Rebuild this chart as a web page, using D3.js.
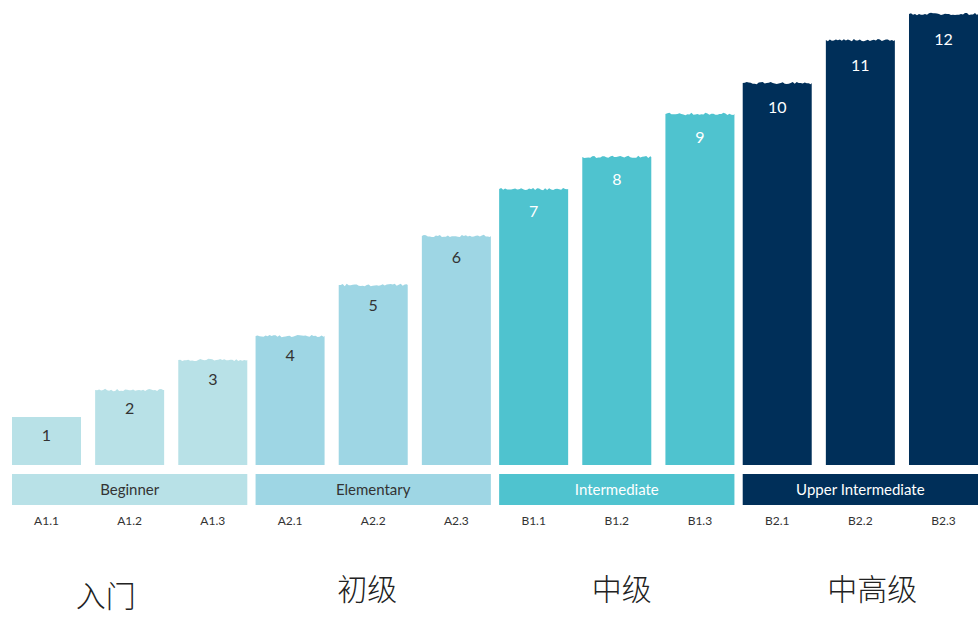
<!DOCTYPE html>
<html lang="en">
<head>
<meta charset="UTF-8">
<title>Levels</title>
<script src="https://cdn.jsdelivr.net/npm/d3@7"></script>
<style>
    body { margin: 0; background: #ffffff; font-family: Lato, "Noto Sans", sans-serif; }
    svg { display: block; }
</style>
</head>
<body>
<svg id="chart" width="978" height="619"></svg>
<script>
    // data
    const levels = ["A1.1", "A1.2", "A1.3", "A2.1", "A2.2", "A2.3", "B1.1", "B1.2", "B1.3", "B2.1", "B2.2", "B2.3"];
    const numbers = ["1", "2", "3", "4", "5", "6", "7", "8", "9", "10", "11", "12"];
    const heights = [48, 75, 105, 129, 180, 229, 276, 308, 351, 382, 425, 451];
    const groupOf = [0, 0, 0, 1, 1, 1, 2, 2, 2, 3, 3, 3];
    const groupNames = ["Beginner", "Elementary", "Intermediate", "Upper Intermediate"];
    const groupNamesZh = ["入门", "初级", "中级", "中高级"];

    const barBottom = 465;
    const barColors = ["#b8e1e7", "#9ed6e4", "#4fc3cf", "#002f59"];
    const textColors = ["#333333", "#333333", "#ffffff", "#ffffff"];
    // small nudges for the chinese captions, like the original
    const zhShift = [-24, -6, 5, 12];
    const zhY = [607, 600, 600, 600];

    const svg = d3.select("#chart");

    // groups, then levels inside each group
    const gx = d3.scaleBand()
        .domain(groupNames)
        .range([12, 978])
        .paddingInner(0.034)
        .paddingOuter(0);

    const inner = d3.scaleBand()
        .domain([0, 1, 2])
        .range([0, gx.bandwidth()])
        .paddingInner(0.17)
        .paddingOuter(0);

    const xPos = i => gx(groupNames[groupOf[i]]) + inner(i % 3);
    const bw = inner.bandwidth();

    const y = d3.scaleLinear()
        .domain([0, barBottom])
        .range([barBottom, 0]);

    // torn-paper style top edge (decoration only)
    function jitter(k, i) {
        const s = Math.sin(k * 12.9898 + i * 78.233) * 43758.5453;
        return (s - Math.floor(s)) * 2.4 - 1.2;
    }
    function barPath(i) {
        const x0 = xPos(i);
        const top = y(heights[i]);
        let p = `M${x0},${barBottom}L${x0},${top}`;
        if (i > 0) {
            for (let k = 2; k < bw; k += 2) {
                p += `L${x0 + k},${top + jitter(k, i)}`;
            }
        }
        p += `L${x0 + bw},${top}L${x0 + bw},${barBottom}Z`;
        return p;
    }

    svg.append("g").selectAll("path")
        .data(levels)
        .join("path")
        .attr("d", (d, i) => barPath(i))
        .attr("fill", (d, i) => barColors[groupOf[i]]);

    // numbers on the bars
    svg.append("g").selectAll("text")
        .data(numbers)
        .join("text")
        .attr("x", (d, i) => xPos(i) + bw / 2)
        .attr("y", (d, i) => y(heights[i]) + 23 + 8 * heights[i] / 451)
        .attr("text-anchor", "middle")
        .attr("font-size", 16)
        .attr("fill", (d, i) => textColors[groupOf[i]])
        .text(d => d);

    // group bands
    const band = svg.append("g");
    band.selectAll("rect")
        .data(groupNames)
        .join("rect")
        .attr("x", d => gx(d))
        .attr("y", 474)
        .attr("width", gx.bandwidth())
        .attr("height", 31)
        .attr("fill", (d, g) => barColors[g]);

    band.selectAll("text")
        .data(groupNames)
        .join("text")
        .attr("x", d => gx(d) + gx.bandwidth() / 2)
        .attr("y", 495)
        .attr("text-anchor", "middle")
        .attr("font-size", 15)
        .attr("fill", (d, g) => textColors[g])
        .text(d => d);

    // level labels
    svg.append("g").selectAll("text")
        .data(levels)
        .join("text")
        .attr("x", (d, i) => xPos(i) + bw / 2)
        .attr("y", 525)
        .attr("text-anchor", "middle")
        .attr("font-size", 12)
        .attr("fill", "#333")
        .text(d => d);

    // chinese captions
    svg.append("g").selectAll("text")
        .data(groupNamesZh)
        .join("text")
        .attr("x", (d, g) => gx(groupNames[g]) + gx.bandwidth() / 2 + zhShift[g])
        .attr("y", (d, g) => zhY[g])
        .attr("text-anchor", "middle")
        .attr("font-family", "'Noto Sans CJK SC', sans-serif")
        .attr("font-weight", 300)
        .attr("font-size", 30)
        .attr("fill", "#222")
        .text(d => d);
</script>
</body>
</html>
